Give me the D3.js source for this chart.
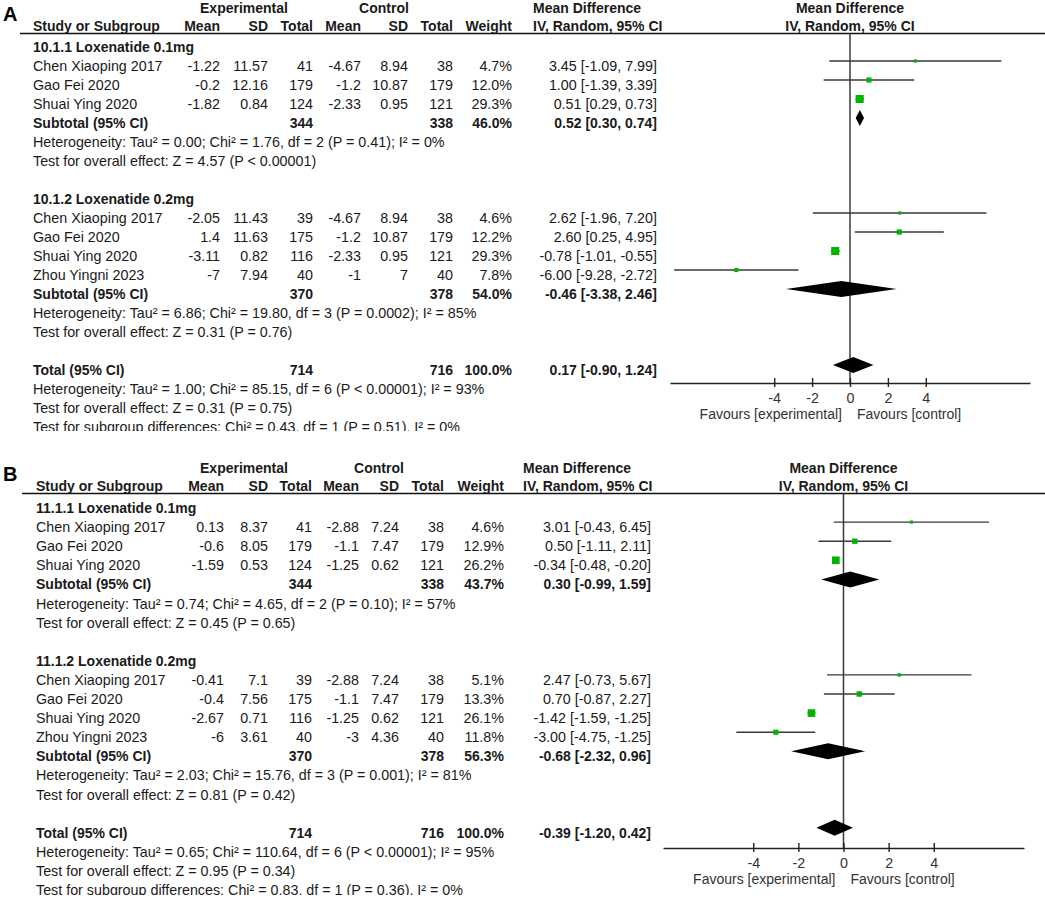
<!DOCTYPE html>
<html>
<head>
<meta charset="utf-8">
<script src="https://cdn.jsdelivr.net/npm/d3@7"></script>
<style>
  body { margin: 0; background: #fff; }
  svg { display: block; font-family: "Liberation Sans", Arial, sans-serif; }
</style>
</head>
<body>
<div id="chart"></div>
<script>
// panel A data
const groupTitlesA = ["10.1.1 Loxenatide 0.1mg", "10.1.2 Loxenatide 0.2mg"];
// study, exp mean, exp sd, exp n, ctl mean, ctl sd, ctl n, weight, md, lo, hi
const studiesA = [
  [
    ["Chen Xiaoping 2017", -1.22, 11.57, 41, -4.67, 8.94, 38, 4.7, 3.45, -1.09, 7.99],
    ["Gao Fei 2020", -0.2, 12.16, 179, -1.2, 10.87, 179, 12.0, 1.0, -1.39, 3.39],
    ["Shuai Ying 2020", -1.82, 0.84, 124, -2.33, 0.95, 121, 29.3, 0.51, 0.29, 0.73],
  ],
  [
    ["Chen Xiaoping 2017", -2.05, 11.43, 39, -4.67, 8.94, 38, 4.6, 2.62, -1.96, 7.2],
    ["Gao Fei 2020", 1.4, 11.63, 175, -1.2, 10.87, 179, 12.2, 2.6, 0.25, 4.95],
    ["Shuai Ying 2020", -3.11, 0.82, 116, -2.33, 0.95, 121, 29.3, -0.78, -1.01, -0.55],
    ["Zhou Yingni 2023", -7, 7.94, 40, -1, 7, 40, 7.8, -6.0, -9.28, -2.72],
  ],
];
// exp n, ctl n, weight, md, lo, hi
const subtotalsA = [
  [344, 338, 46.0, 0.52, 0.3, 0.74],
  [370, 378, 54.0, -0.46, -3.38, 2.46],
];
const notesA = [
  ["Heterogeneity: Tau² = 0.00; Chi² = 1.76, df = 2 (P = 0.41); I² = 0%",
   "Test for overall effect: Z = 4.57 (P < 0.00001)"],
  ["Heterogeneity: Tau² = 6.86; Chi² = 19.80, df = 3 (P = 0.0002); I² = 85%",
   "Test for overall effect: Z = 0.31 (P = 0.76)"],
];
const totalA = [714, 716, 100.0, 0.17, -0.9, 1.24];
const totalNotesA = [
  "Heterogeneity: Tau² = 1.00; Chi² = 85.15, df = 6 (P < 0.00001); I² = 93%",
  "Test for overall effect: Z = 0.31 (P = 0.75)",
  "Test for subgroup differences: Chi² = 0.43, df = 1 (P = 0.51), I² = 0%",
];
const domainA = [-9.5, 9.5];
const ticksA = [-4, -2, 0, 2, 4];

// panel B data
const groupTitlesB = ["11.1.1 Loxenatide 0.1mg", "11.1.2 Loxenatide 0.2mg"];
const studiesB = [
  [
    ["Chen Xiaoping 2017", 0.13, 8.37, 41, -2.88, 7.24, 38, 4.6, 3.01, -0.43, 6.45],
    ["Gao Fei 2020", -0.6, 8.05, 179, -1.1, 7.47, 179, 12.9, 0.5, -1.11, 2.11],
    ["Shuai Ying 2020", -1.59, 0.53, 124, -1.25, 0.62, 121, 26.2, -0.34, -0.48, -0.2],
  ],
  [
    ["Chen Xiaoping 2017", -0.41, 7.1, 39, -2.88, 7.24, 38, 5.1, 2.47, -0.73, 5.67],
    ["Gao Fei 2020", -0.4, 7.56, 175, -1.1, 7.47, 179, 13.3, 0.7, -0.87, 2.27],
    ["Shuai Ying 2020", -2.67, 0.71, 116, -1.25, 0.62, 121, 26.1, -1.42, -1.59, -1.25],
    ["Zhou Yingni 2023", -6, 3.61, 40, -3, 4.36, 40, 11.8, -3.0, -4.75, -1.25],
  ],
];
const subtotalsB = [
  [344, 338, 43.7, 0.3, -0.99, 1.59],
  [370, 378, 56.3, -0.68, -2.32, 0.96],
];
const notesB = [
  ["Heterogeneity: Tau² = 0.74; Chi² = 4.65, df = 2 (P = 0.10); I² = 57%",
   "Test for overall effect: Z = 0.45 (P = 0.65)"],
  ["Heterogeneity: Tau² = 2.03; Chi² = 15.76, df = 3 (P = 0.001); I² = 81%",
   "Test for overall effect: Z = 0.81 (P = 0.42)"],
];
const totalB = [714, 716, 100.0, -0.39, -1.2, 0.42];
const totalNotesB = [
  "Heterogeneity: Tau² = 0.65; Chi² = 110.64, df = 6 (P < 0.00001); I² = 95%",
  "Test for overall effect: Z = 0.95 (P = 0.34)",
  "Test for subgroup differences: Chi² = 0.83, df = 1 (P = 0.36), I² = 0%",
];
const domainB = [-8, 8];
const ticksB = [-4, -2, 0, 2, 4];

const width = 1045;
const height = 898;
const textColor = "#1a1a1a";
const lineColor = "#3a3a3a";
const green = "#00b400";

const layoutA = {
  id: "A", letter: "A", rule: 33, ruleX: 20, first: 47, step: 19, clip: [0, 431],
  cols: { name: 33, em: 220, esd: 268, en: 313, cm: 361, csd: 408, cn: 453, w: 512, mdLeft: 533, md: 657 },
  exp: 244, ctl: 384, forest: [670, 1030], axisY: 383,
};
const layoutB = {
  id: "B", letter: "B", rule: 493, ruleX: 22, first: 508, step: 19.1, clip: [440, 895],
  cols: { name: 36, em: 224, esd: 268, en: 312, cm: 359, csd: 399, cn: 444, w: 504, mdLeft: 523, md: 651 },
  exp: 244, ctl: 379, forest: [663, 1024], axisY: 848,
};

const svg = d3.select("#chart").append("svg").attr("width", width).attr("height", height);

drawPanel(layoutA, groupTitlesA, studiesA, subtotalsA, notesA, totalA, totalNotesA, domainA, ticksA);
drawPanel(layoutB, groupTitlesB, studiesB, subtotalsB, notesB, totalB, totalNotesB, domainB, ticksB);

function fmtCI(md, lo, hi) {
  return md.toFixed(2) + " [" + lo.toFixed(2) + ", " + hi.toFixed(2) + "]";
}

function drawPanel(L, titles, studies, subtotals, notes, total, totalNotes, domain, ticks) {
  svg.append("clipPath").attr("id", "clip" + L.id)
    .append("rect").attr("x", 0).attr("y", L.clip[0])
    .attr("width", width).attr("height", L.clip[1] - L.clip[0]);

  const g = svg.append("g").attr("clip-path", "url(#clip" + L.id + ")");
  const x = d3.scaleLinear().domain(domain).range(L.forest);
  const size = d3.scaleSqrt().domain([0, 30]).range([0, 8.2]);
  const c = L.cols;

  const text = (tx, ty, str, anchor, bold) =>
    g.append("text")
      .attr("x", tx).attr("y", ty)
      .attr("text-anchor", anchor || "start")
      .style("font-size", bold ? "14px" : "14.3px")
      .style("font-weight", bold ? "bold" : "normal")
      .style("fill", textColor)
      .text(str);

  // letter + headers
  g.append("text").attr("x", 3).attr("y", L.rule - 12)
    .style("font-size", "20px").style("font-weight", "bold").text(L.letter);

  const h1 = L.rule - 20;
  const h2 = L.rule - 2;
  text(L.exp, h1, "Experimental", "middle", true);
  text(L.ctl, h1, "Control", "middle", true);
  text(c.mdLeft, h1, "Mean Difference", "start", true);
  text(x(0), h1, "Mean Difference", "middle", true);

  text(c.name, h2, "Study or Subgroup", "start", true);
  text(c.em, h2, "Mean", "end", true);
  text(c.esd, h2, "SD", "end", true);
  text(c.en, h2, "Total", "end", true);
  text(c.cm, h2, "Mean", "end", true);
  text(c.csd, h2, "SD", "end", true);
  text(c.cn, h2, "Total", "end", true);
  text(c.w, h2, "Weight", "end", true);
  text(c.mdLeft, h2, "IV, Random, 95% CI", "start", true);
  text(x(0), h2, "IV, Random, 95% CI", "middle", true);

  g.append("line")
    .attr("x1", L.ruleX).attr("x2", width)
    .attr("y1", L.rule + 0.5).attr("y2", L.rule + 0.5)
    .style("stroke", "#111").style("stroke-width", 1.6);

  // zero line
  g.append("line")
    .attr("x1", x(0)).attr("x2", x(0))
    .attr("y1", L.rule).attr("y2", L.axisY)
    .style("stroke", lineColor).style("stroke-width", 1.5);

  const base = (i) => L.first + L.step * i + 5;
  const markY = (i) => L.first + L.step * i - 5;

  const diamond = (i, md, lo, hi) => {
    const y = markY(i);
    g.append("path")
      .attr("d", "M" + x(lo) + "," + y + "L" + x(md) + "," + (y - 8) +
        "L" + x(hi) + "," + y + "L" + x(md) + "," + (y + 8) + "Z")
      .style("fill", "#000");
  };

  let row = 0;
  titles.forEach((title, gi) => {
    text(c.name, base(row), title, "start", true);
    row++;
    studies[gi].forEach((s) => {
      const y = base(row);
      text(c.name, y, s[0]);
      text(c.em, y, String(s[1]), "end");
      text(c.esd, y, String(s[2]), "end");
      text(c.en, y, String(s[3]), "end");
      text(c.cm, y, String(s[4]), "end");
      text(c.csd, y, String(s[5]), "end");
      text(c.cn, y, String(s[6]), "end");
      text(c.w, y, s[7].toFixed(1) + "%", "end");
      text(c.md, y, fmtCI(s[8], s[9], s[10]), "end");

      const my = markY(row);
      g.append("line")
        .attr("x1", x(s[9])).attr("x2", x(s[10]))
        .attr("y1", my).attr("y2", my)
        .style("stroke", lineColor).style("stroke-width", 1.4);
      const sz = size(s[7]);
      g.append("rect")
        .attr("x", x(s[8]) - sz / 2).attr("y", my - sz / 2)
        .attr("width", sz).attr("height", sz)
        .style("fill", green);
      row++;
    });
    const st = subtotals[gi];
    const y = base(row);
    text(c.name, y, "Subtotal (95% CI)", "start", true);
    text(c.en, y, String(st[0]), "end", true);
    text(c.cn, y, String(st[1]), "end", true);
    text(c.w, y, st[2].toFixed(1) + "%", "end", true);
    text(c.md, y, fmtCI(st[3], st[4], st[5]), "end", true);
    diamond(row, st[3], st[4], st[5]);
    row++;
    notes[gi].forEach((n) => {
      text(c.name, base(row), n);
      row++;
    });
    row++;
  });

  const ty = base(row);
  text(c.name, ty, "Total (95% CI)", "start", true);
  text(c.en, ty, String(total[0]), "end", true);
  text(c.cn, ty, String(total[1]), "end", true);
  text(c.w, ty, total[2].toFixed(1) + "%", "end", true);
  text(c.md, ty, fmtCI(total[3], total[4], total[5]), "end", true);
  diamond(row, total[3], total[4], total[5]);
  row++;
  totalNotes.forEach((n) => {
    text(c.name, base(row), n);
    row++;
  });

  // axis
  const axis = d3.axisBottom(x)
    .tickValues(ticks)
    .tickSizeInner(4)
    .tickSizeOuter(0)
    .tickPadding(6)
    .tickFormat(d3.format("d"));

  const ax = g.append("g")
    .attr("transform", "translate(0," + L.axisY + ")")
    .call(axis);
  ax.select(".domain").style("stroke", "#222").style("stroke-width", 1.6);
  ax.selectAll(".tick line").attr("y1", -5).style("stroke", "#222").style("stroke-width", 1.4);
  ax.selectAll(".tick text")
    .style("font-size", "14.3px")
    .style("font-family", "'Liberation Sans', Arial, sans-serif")
    .style("fill", "#333")
    .text((d) => (d < 0 ? "-" + Math.abs(d) : d));

  g.append("text")
    .attr("x", x(0) - 8).attr("y", L.axisY + 36)
    .attr("text-anchor", "end")
    .style("font-size", "14px").style("fill", "#333")
    .text("Favours [experimental]");
  g.append("text")
    .attr("x", x(0) + 7).attr("y", L.axisY + 36)
    .style("font-size", "14px").style("fill", "#333")
    .text("Favours [control]");
}
</script>
</body>
</html>
